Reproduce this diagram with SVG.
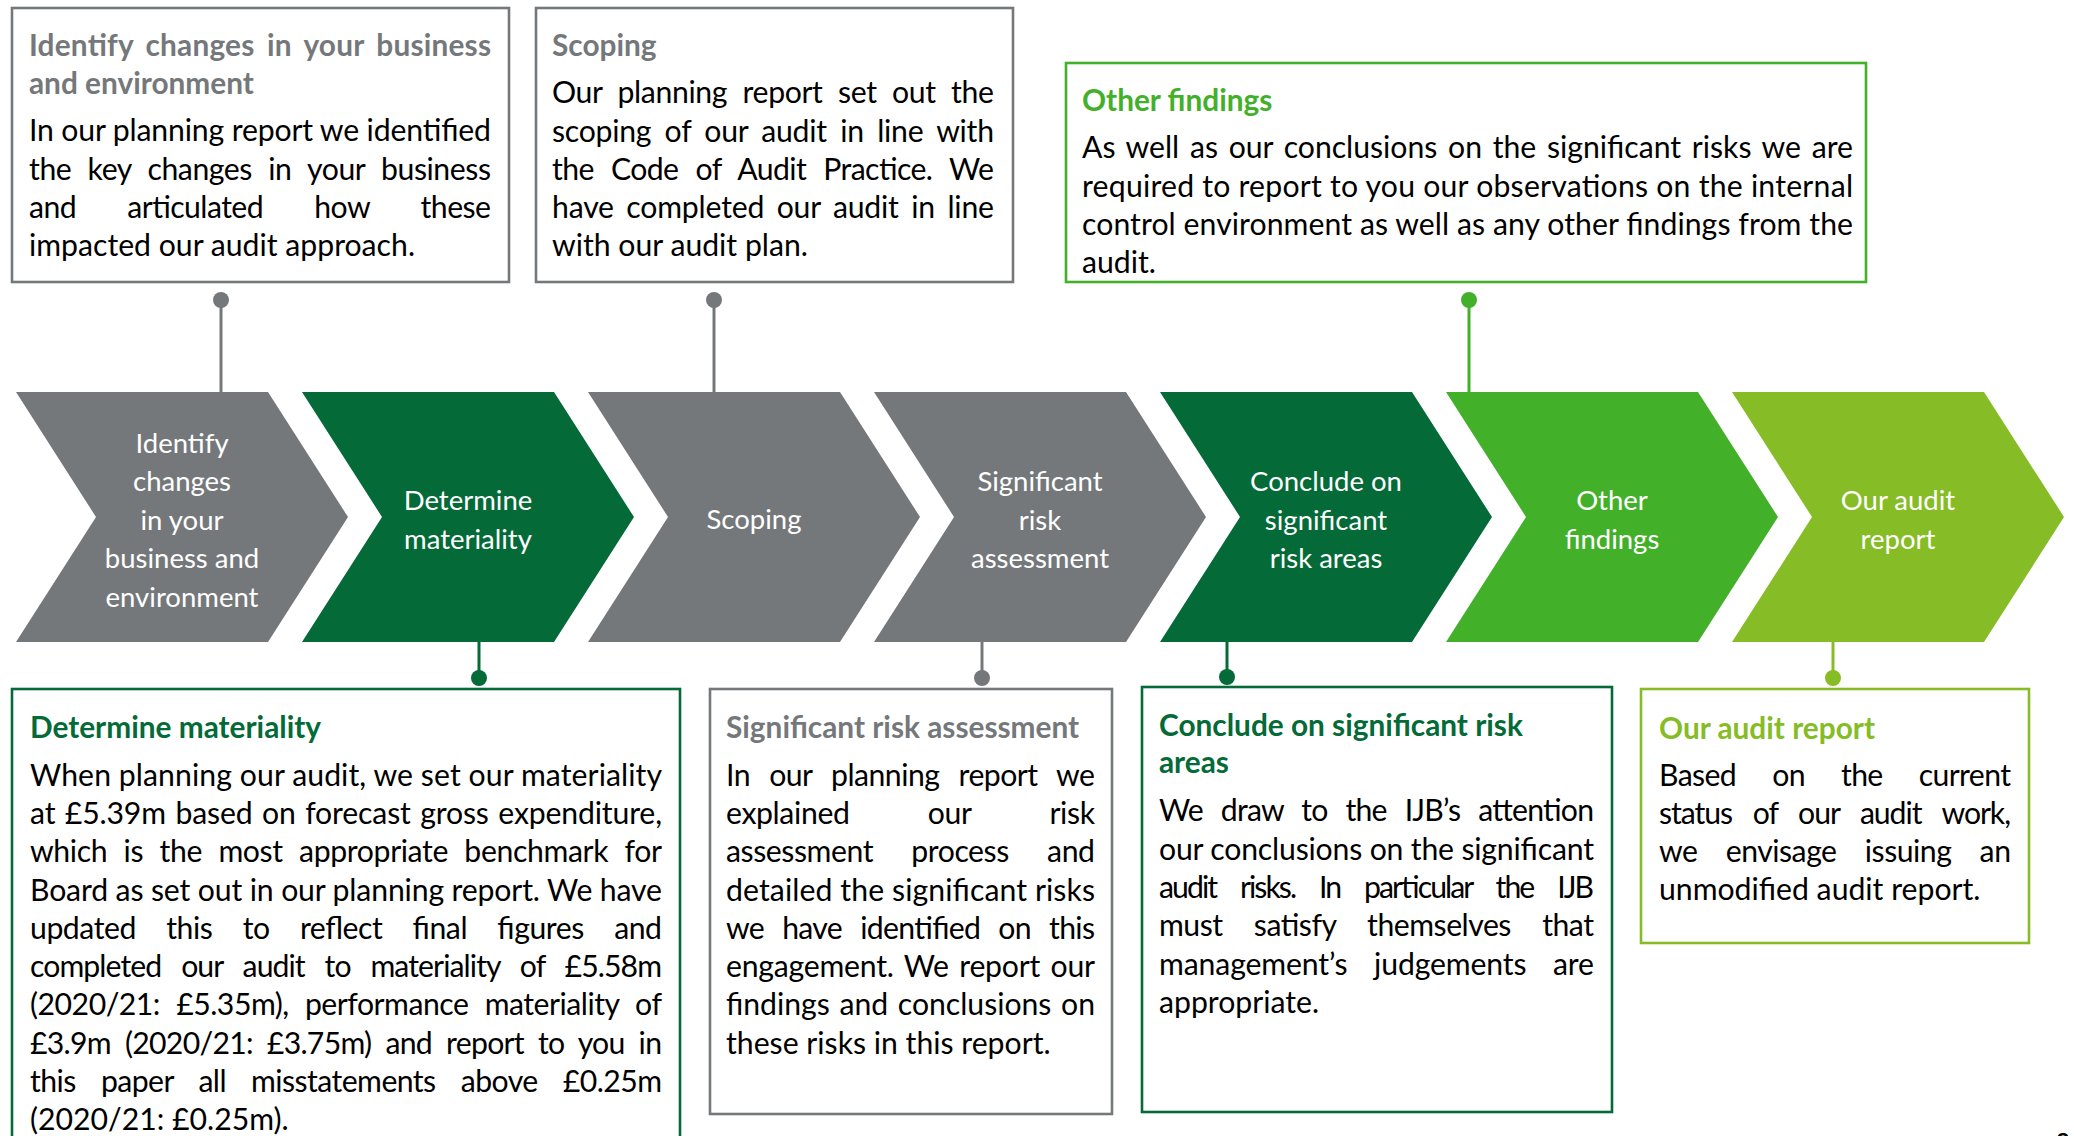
<svg xmlns="http://www.w3.org/2000/svg" width="2074" height="1136" viewBox="0 0 2074 1136">
<style>
.bg{fill:#fff}
.box{fill:#fff;stroke-width:2.6}
.b-gray{stroke:#75787B}
.b-dg{stroke:#046A38}
.b-g{stroke:#43B02A}
.b-l{stroke:#86BC25}
.t{font-family:Lato,"Liberation Sans",sans-serif;font-size:30.2px;fill:#000}
.h{font-family:Lato,"Liberation Sans",sans-serif;font-size:29.8px;font-weight:700}
.c-gray{fill:#75787B}
.c-dg{fill:#046A38}
.c-g{fill:#43B02A}
.c-l{fill:#86BC25}
.ch{font-family:Lato,"Liberation Sans",sans-serif;font-size:27.5px;fill:#fff;text-anchor:middle}
.pin{stroke-width:3;fill:none}
</style>
<rect class="bg" x="0" y="0" width="2074" height="1136"/>

<!-- Chevrons -->
<g id="chevron-identify">
<path class="c-gray" d="M16,392 L268,392 L348,517 L268,642 L16,642 L96,517 Z"/>
<text class="ch"><tspan x="182" y="452.5">Identify</tspan><tspan x="182" y="491">changes</tspan><tspan x="182" y="529.5">in your</tspan><tspan x="182" y="568">business and</tspan><tspan x="182" y="606.5">environment</tspan></text>
</g>
<g id="chevron-materiality">
<path class="c-dg" d="M302,392 L554,392 L634,517 L554,642 L302,642 L382,517 Z"/>
<text class="ch"><tspan x="468" y="510">Determine</tspan><tspan x="468" y="548.5">materiality</tspan></text>
</g>
<g id="chevron-scoping">
<path class="c-gray" d="M588,392 L840,392 L920,517 L840,642 L588,642 L668,517 Z"/>
<text class="ch" x="754" y="529">Scoping</text>
</g>
<g id="chevron-risk">
<path class="c-gray" d="M874,392 L1126,392 L1206,517 L1126,642 L874,642 L954,517 Z"/>
<text class="ch"><tspan x="1040" y="491">Significant</tspan><tspan x="1040" y="529.5">risk</tspan><tspan x="1040" y="568">assessment</tspan></text>
</g>
<g id="chevron-conclude">
<path class="c-dg" d="M1160,392 L1412,392 L1492,517 L1412,642 L1160,642 L1240,517 Z"/>
<text class="ch"><tspan x="1326" y="491">Conclude on</tspan><tspan x="1326" y="529.5">significant</tspan><tspan x="1326" y="568">risk areas</tspan></text>
</g>
<g id="chevron-other">
<path class="c-g" d="M1446,392 L1698,392 L1778,517 L1698,642 L1446,642 L1526,517 Z"/>
<text class="ch"><tspan x="1612" y="510">Other</tspan><tspan x="1612" y="548.5">findings</tspan></text>
</g>
<g id="chevron-report">
<path class="c-l" d="M1732,392 L1984,392 L2064,517 L1984,642 L1732,642 L1812,517 Z"/>
<text class="ch"><tspan x="1898" y="510">Our audit</tspan><tspan x="1898" y="548.5">report</tspan></text>
</g>

<!-- Connectors -->
<g id="connectors">
<line class="pin b-gray" x1="221" y1="300" x2="221" y2="392"/><circle class="c-gray" cx="221" cy="300" r="8"/>
<line class="pin b-gray" x1="714" y1="300" x2="714" y2="392"/><circle class="c-gray" cx="714" cy="300" r="8"/>
<line class="pin b-g" x1="1469" y1="300" x2="1469" y2="392"/><circle class="c-g" cx="1469" cy="300" r="8"/>
<line class="pin b-dg" x1="479" y1="642" x2="479" y2="678"/><circle class="c-dg" cx="479" cy="678" r="8"/>
<line class="pin b-gray" x1="982" y1="642" x2="982" y2="678"/><circle class="c-gray" cx="982" cy="678" r="8"/>
<line class="pin b-dg" x1="1227" y1="642" x2="1227" y2="677"/><circle class="c-dg" cx="1227" cy="677" r="8"/>
<line class="pin b-l" x1="1833" y1="642" x2="1833" y2="678"/><circle class="c-l" cx="1833" cy="678" r="8"/>
</g>

<!-- Box 1 -->
<g id="box-identify">
<rect class="box b-gray" x="12" y="8" width="497" height="274"/>
<text class="h c-gray" x="29" y="56" word-spacing="5" textLength="462" lengthAdjust="spacing">Identify changes in your business</text>
<text class="h c-gray" x="29" y="94">and environment</text>
<text class="t" x="29" y="141" textLength="462" lengthAdjust="spacing">In our planning report we identified</text>
<text class="t" x="29" y="179.5" word-spacing="9" textLength="462" lengthAdjust="spacing">the key changes in your business</text>
<text class="t" x="29" y="218" word-spacing="44" textLength="462" lengthAdjust="spacing">and articulated how these</text>
<text class="t" x="29" y="255.5">impacted our audit approach.</text>
</g>

<!-- Box 2 -->
<g id="box-scoping">
<rect class="box b-gray" x="536" y="8" width="477" height="274"/>
<text class="h c-gray" x="552" y="56">Scoping</text>
<text class="t" x="552" y="103" word-spacing="8" textLength="442" lengthAdjust="spacing">Our planning report set out the</text>
<text class="t" x="552" y="141.5" word-spacing="6" textLength="442" lengthAdjust="spacing">scoping of our audit in line with</text>
<text class="t" x="552" y="179.5" word-spacing="10" textLength="442" lengthAdjust="spacing">the Code of Audit Practice. We</text>
<text class="t" x="552" y="218" word-spacing="5" textLength="442" lengthAdjust="spacing">have completed our audit in line</text>
<text class="t" x="552" y="255.5">with our audit plan.</text>
</g>

<!-- Box 3 -->
<g id="box-other">
<rect class="box b-g" x="1066" y="63" width="800" height="219"/>
<text class="h c-g" x="1082" y="111">Other findings</text>
<text class="t" x="1082" y="158" word-spacing="3" textLength="771" lengthAdjust="spacing">As well as our conclusions on the significant risks we are</text>
<text class="t" x="1082" y="196.5" textLength="771" lengthAdjust="spacing">required to report to you our observations on the internal</text>
<text class="t" x="1082" y="235" textLength="771" lengthAdjust="spacing">control environment as well as any other findings from the</text>
<text class="t" x="1082" y="273">audit.</text>
</g>

<!-- Box 4 -->
<g id="box-materiality">
<rect class="box b-dg" x="12" y="689" width="668" height="470"/>
<text class="h c-dg" x="30" y="738">Determine materiality</text>
<text class="t" x="30" y="785.5" textLength="632" lengthAdjust="spacing">When planning our audit, we set our materiality</text>
<text class="t" x="30" y="824" word-spacing="2" textLength="632" lengthAdjust="spacing">at £5.39m based on forecast gross expenditure,</text>
<text class="t" x="30" y="862" word-spacing="9" textLength="632" lengthAdjust="spacing">which is the most appropriate benchmark for</text>
<text class="t" x="30" y="900.5" textLength="632" lengthAdjust="spacing">Board as set out in our planning report. We have</text>
<text class="t" x="30" y="938.5" word-spacing="23" textLength="632" lengthAdjust="spacing">updated this to reflect final figures and</text>
<text class="t" x="30" y="977" word-spacing="13" textLength="632" lengthAdjust="spacing">completed our audit to materiality of £5.58m</text>
<text class="t" x="30" y="1015" word-spacing="9" textLength="632" lengthAdjust="spacing">(2020/21: £5.35m), performance materiality of</text>
<text class="t" x="30" y="1053.5" word-spacing="7" textLength="632" lengthAdjust="spacing">£3.9m (2020/21: £3.75m) and report to you in</text>
<text class="t" x="30" y="1091.5" word-spacing="18" textLength="632" lengthAdjust="spacing">this paper all misstatements above £0.25m</text>
<text class="t" x="30" y="1130">(2020/21: £0.25m).</text>
</g>

<!-- Box 5 -->
<g id="box-risk">
<rect class="box b-gray" x="710" y="689" width="402" height="425"/>
<text class="h c-gray" x="726" y="738">Significant risk assessment</text>
<text class="t" x="726" y="785.5" word-spacing="12" textLength="369" lengthAdjust="spacing">In our planning report we</text>
<text class="t" x="726" y="824" word-spacing="71" textLength="369" lengthAdjust="spacing">explained our risk</text>
<text class="t" x="726" y="862" word-spacing="31" textLength="369" lengthAdjust="spacing">assessment process and</text>
<text class="t" x="726" y="900.5" textLength="369" lengthAdjust="spacing">detailed the significant risks</text>
<text class="t" x="726" y="938.5" word-spacing="11" textLength="369" lengthAdjust="spacing">we have identified on this</text>
<text class="t" x="726" y="977" word-spacing="3" textLength="369" lengthAdjust="spacing">engagement. We report our</text>
<text class="t" x="726" y="1015" word-spacing="2" textLength="369" lengthAdjust="spacing">findings and conclusions on</text>
<text class="t" x="726" y="1053.5">these risks in this report.</text>
</g>

<!-- Box 6 -->
<g id="box-conclude">
<rect class="box b-dg" x="1142" y="687" width="470" height="425"/>
<text class="h c-dg" x="1159" y="736">Conclude on significant risk</text>
<text class="h c-dg" x="1159" y="773">areas</text>
<text class="t" x="1159" y="821" word-spacing="11" textLength="435" lengthAdjust="spacing">We draw to the IJB’s attention</text>
<text class="t" x="1159" y="859.5" textLength="435" lengthAdjust="spacing">our conclusions on the significant</text>
<text class="t" x="1159" y="898" word-spacing="18" textLength="435" lengthAdjust="spacing">audit risks. In particular the IJB</text>
<text class="t" x="1159" y="936" word-spacing="24" textLength="435" lengthAdjust="spacing">must satisfy themselves that</text>
<text class="t" x="1159" y="974.5" word-spacing="19" textLength="435" lengthAdjust="spacing">management’s judgements are</text>
<text class="t" x="1159" y="1013">appropriate.</text>
</g>

<!-- Box 7 -->
<g id="box-report">
<rect class="box b-l" x="1641" y="689" width="388" height="254"/>
<text class="h c-l" x="1659" y="738.5">Our audit report</text>
<text class="t" x="1659" y="785.5" word-spacing="29" textLength="352" lengthAdjust="spacing">Based on the current</text>
<text class="t" x="1659" y="823.5" word-spacing="14" textLength="352" lengthAdjust="spacing">status of our audit work,</text>
<text class="t" x="1659" y="861.5" word-spacing="21" textLength="352" lengthAdjust="spacing">we envisage issuing an</text>
<text class="t" x="1659" y="900">unmodified audit report.</text>
</g>

<text class="t" x="2056" y="1151" style="font-size:24px;font-weight:700">8</text>
</svg>
